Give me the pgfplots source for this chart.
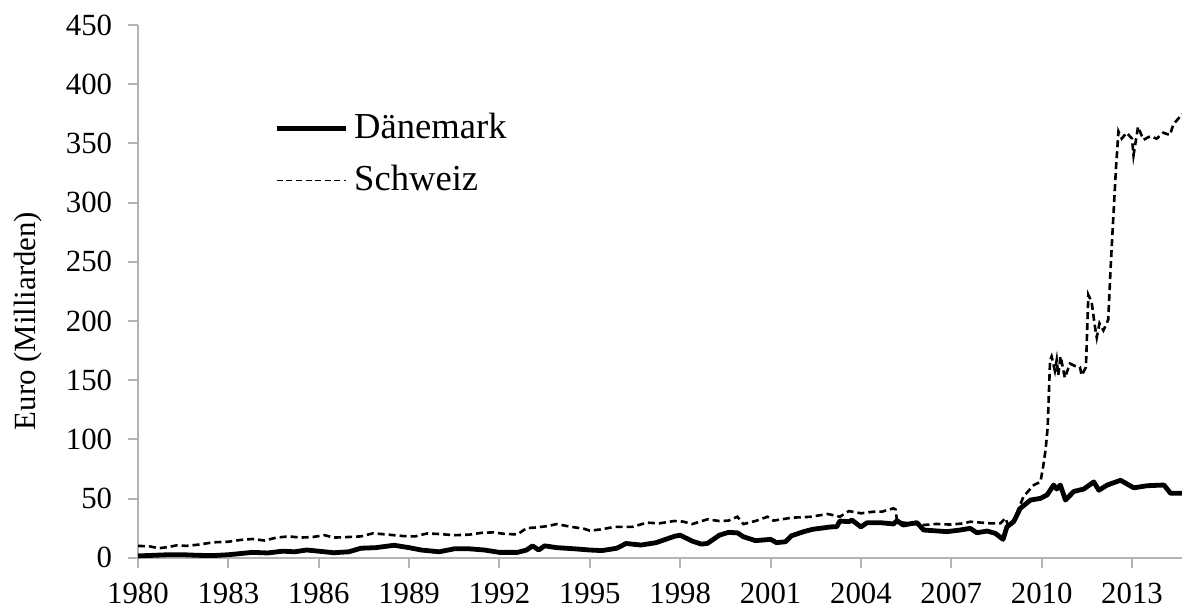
\documentclass[border=0pt]{standalone}
\usepackage{fontspec}
\setmainfont{Liberation Serif}
\usepackage{pgfplots}
\pgfplotsset{compat=1.18}
\usetikzlibrary{calc}
\definecolor{axgray}{RGB}{180,180,180}
\begin{document}
\begin{tikzpicture}[font=\fontsize{15.4pt}{18pt}\selectfont]
\begin{axis}[
  scale only axis,
  width=522pt, height=266.35pt,
  xmin=1980, xmax=2014.66,
  ymin=0, ymax=450,
  xtick={1980,1983,...,2013},
  ytick={0,50,...,450},
  axis x line*=bottom,
  axis y line*=left,
  axis line style={axgray, line width=1pt},
  tick style={axgray, line width=1pt},
  tick align=outside,
  major tick length=5pt,
  /pgf/number format/assume math mode=true,
  /pgf/number format/1000 sep={},
  xticklabel style={font=\fontsize{15.4pt}{18pt}\selectfont, inner sep=1pt, yshift=-6.65pt},
  yticklabel style={font=\fontsize{15.4pt}{18pt}\selectfont, xshift=-4.4pt},
  ylabel={Euro (Milliarden)},
  every axis y label/.style={at={(axis description cs:-0.1054,0.4443)}, rotate=90, anchor=center},
  clip=false,
  legend cell align=left,
  legend image code/.code={\draw[#1] (0pt,0pt) -- (34.5pt,0pt);},
  legend style={draw=none, fill=none, inner sep=0pt, at={(axis description cs:0.1303,0.8393)}, anchor=north west,
    nodes={inner sep=0pt, text height=13.7pt, text depth=4pt, font=\fontsize{18.3pt}{21pt}\selectfont},
    row sep=8.3pt, column sep=3pt},
]
\addplot[black, line width=2.4pt, line join=round] coordinates {
(1980.0,1.5) (1980.5,2) (1981.0,2.5) (1981.5,2.5) (1982.0,2) (1982.5,1.8) (1983.0,2.5) (1983.4,3.5) (1983.8,4.5) (1984.3,4) (1984.8,5.5) (1985.2,5) (1985.6,6.5) (1986.0,5.5) (1986.5,4.2) (1987.0,5) (1987.4,8) (1987.9,8.5) (1988.5,10.5) (1989.0,8.5) (1989.4,6.5) (1990.0,5) (1990.5,7.5) (1991.0,7.5) (1991.5,6.5) (1992.0,4.5) (1992.6,4.5) (1992.9,6.5) (1993.1,10) (1993.3,6.5) (1993.5,10) (1993.9,8.5) (1994.5,7.5) (1995.0,6.5) (1995.4,6) (1995.9,8) (1996.2,12) (1996.7,10.7) (1997.2,12.7) (1997.8,18) (1998.0,19) (1998.4,14) (1998.7,11.5) (1998.9,12) (1999.3,19) (1999.6,21.4) (1999.9,21) (2000.1,17.7) (2000.5,14.4) (2001.0,15.5) (2001.2,12.7) (2001.5,13.5) (2001.7,18.6) (2002.1,22) (2002.4,24) (2003.0,26) (2003.2,26.2) (2003.3,31) (2003.6,30.4) (2003.7,31.8) (2004.0,26) (2004.2,29.5) (2004.64,29.6) (2005.08,28.5) (2005.2,31.3) (2005.4,27.6) (2005.86,29.6) (2006.08,23.4) (2006.86,22) (2007.3,23.4) (2007.63,24.8) (2007.85,21.1) (2008.19,22.5) (2008.46,20.6) (2008.72,15.5) (2008.85,26.2) (2009.07,30.4) (2009.29,41.7) (2009.63,48.7) (2009.96,50.1) (2010.18,53) (2010.4,61.4) (2010.5,58) (2010.62,61.4) (2010.79,48.7) (2011.07,56) (2011.4,58) (2011.73,64) (2011.9,57) (2012.18,61.4) (2012.62,65.4) (2013.06,59) (2013.5,60.8) (2014.06,61.4) (2014.28,54.4) (2014.66,54.4)
};
\addlegendentry{Dänemark}
\addplot[black, line width=1.3pt, dash pattern=on 3.5pt off 2pt,
  legend image code/.code={\draw[black, line width=0.75pt, dash pattern=on 3pt off 1.8pt] (0pt,0pt) -- (34.5pt,0pt);}] coordinates {
(1980.0,10) (1980.4,9.5) (1980.7,8) (1981.0,9) (1981.3,10.5) (1981.6,10) (1982.0,11) (1982.5,13) (1983.0,13.5) (1983.4,15) (1983.8,15.8) (1984.2,14.5) (1984.6,17) (1985.0,18) (1985.4,17) (1985.8,17.5) (1986.2,19) (1986.5,17) (1987.0,17.5) (1987.4,18) (1987.8,20.6) (1988.3,19.5) (1988.8,18.3) (1989.2,18) (1989.6,20.5) (1990.0,20) (1990.5,19) (1991.0,19.5) (1991.4,21) (1991.8,21.4) (1992.2,20) (1992.6,19.7) (1992.9,25) (1993.2,25.5) (1993.6,26.7) (1993.9,28.4) (1994.4,26) (1994.8,24.5) (1995.0,22.8) (1995.4,24) (1995.8,26) (1996.4,26) (1996.9,29.6) (1997.3,29) (1997.8,31) (1998.1,30.5) (1998.4,28.4) (1998.9,32.4) (1999.3,31) (1999.6,31.3) (1999.9,34.6) (2000.1,28.4) (2000.5,31) (2000.9,34.6) (2001.1,31.3) (2001.7,33.8) (2002.3,34.5) (2002.9,36.9) (2003.3,34.6) (2003.6,39.4) (2004.0,37.5) (2004.4,38.8) (2004.7,38.9) (2005.08,41.7) (2005.15,40.7) (2005.2,30.4) (2005.6,29) (2006.08,27.6) (2006.5,28.5) (2006.96,28) (2007.41,29) (2007.63,30.4) (2008.3,29) (2008.63,29) (2008.8,33.5) (2008.9,26.2) (2009.1,33) (2009.4,51.8) (2009.74,61.4) (2009.96,64) (2010.05,77) (2010.13,91) (2010.2,110) (2010.28,167) (2010.33,170) (2010.44,158) (2010.5,167) (2010.55,154) (2010.63,170) (2010.77,152) (2010.94,164) (2011.1,162) (2011.27,161) (2011.33,154) (2011.47,161) (2011.55,222) (2011.66,216) (2011.77,195) (2011.83,186) (2011.92,198) (2012.05,192) (2012.21,201) (2012.3,250) (2012.38,288) (2012.47,330) (2012.55,360) (2012.66,354) (2012.82,359) (2013.0,354) (2013.05,340) (2013.2,364) (2013.38,353) (2013.6,356) (2013.82,354) (2014.04,359) (2014.26,357) (2014.37,366) (2014.54,371) (2014.66,375)
};
\addlegendentry{Schweiz}
\end{axis}
\pgfresetboundingbox
\path[use as bounding box] ($(current axis.south west)+(-69pt,-26.15pt)$) rectangle ($(current axis.north east)+(0pt,12.5pt)$);
\end{tikzpicture}
\end{document}
